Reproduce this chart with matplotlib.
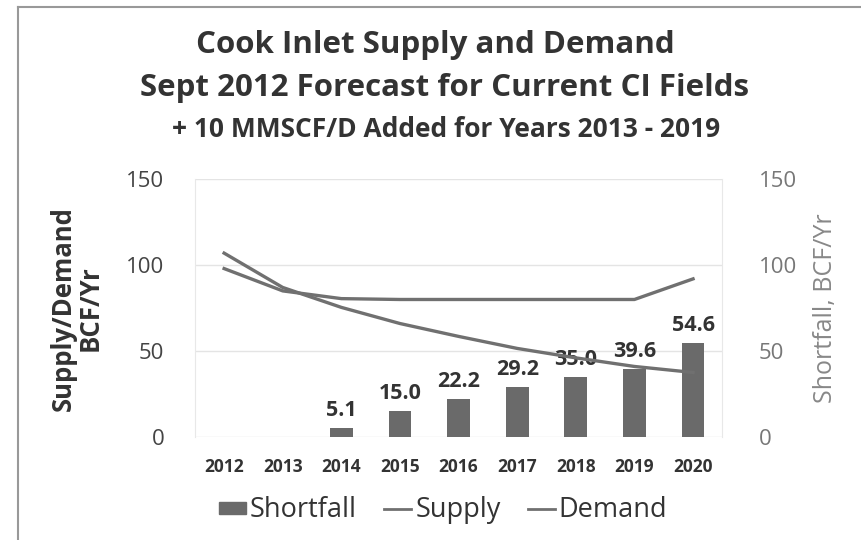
import numpy as np
import matplotlib.pyplot as plt
from matplotlib.lines import Line2D
from matplotlib.patches import Patch

plt.rcParams['font.family'] = ['Open Sans', 'DejaVu Sans']

years = ['2012', '2013', '2014', '2015', '2016', '2017', '2018', '2019', '2020']
shortfall = [0, 0, 5.1, 15.0, 22.2, 29.2, 35.0, 39.6, 54.6]
supply = [107, 87, 75.4, 66, 58.5, 51.5, 46, 41, 37.5]
demand = [98, 85, 80.5, 80, 80, 80, 80, 80, 92]

bar_color = '#6a6a6a'
line_color = '#707070'

fig = plt.figure(figsize=(8.62, 5.4), dpi=100)
ax = fig.add_axes([0.226, 0.191, 0.612, 0.477])
x = np.arange(len(years))

# shortfall bars on the secondary axis, lines on the primary one
ax2 = ax.twinx()
ax2.bar(x, shortfall, width=0.39, color=bar_color, zorder=2)
for xi, v in zip(x, shortfall):
    if v > 0:
        ax2.text(xi, v + 4, f'{v:.1f}', ha='center', va='bottom',
                 fontsize=15.5, fontweight='bold', color='#333333')
ax.plot(x, supply, color=line_color, lw=2.4, zorder=3)
ax.plot(x, demand, color=line_color, lw=2.4, zorder=3)
ax.set_zorder(ax2.get_zorder() + 1)
ax.patch.set_visible(False)

for a in (ax, ax2):
    a.set_ylim(0, 150)
    a.set_yticks([0, 50, 100, 150])
    a.set_xlim(-0.5, len(years) - 0.5)
    for s in a.spines.values():
        s.set_visible(False)
    a.tick_params(length=0)

ax2.grid(axis='y', color='#e4e4e4', lw=1)
ax2.set_axisbelow(True)
ax.spines['left'].set_visible(True)
ax.spines['left'].set_color('#e8e8e8')
ax.spines['right'].set_visible(True)
ax.spines['right'].set_color('#e8e8e8')

ax.set_xticks(x)
ax.set_xticklabels(years, fontsize=12.5, fontweight='bold', color='#333333')
ax.tick_params(axis='x', pad=15)
ax.tick_params(axis='y', labelsize=16, labelcolor='#444444', pad=22)
ax2.tick_params(axis='y', labelsize=16, labelcolor='#777777', pad=26)

ax.set_ylabel('Supply/Demand\nBCF/Yr', fontsize=18.5, fontweight='bold',
              color='#333333', labelpad=16, linespacing=0.98)
ax2.set_ylabel('Shortfall, BCF/Yr', fontsize=18, color='#888888', labelpad=12)

fig.text(0.505, 0.917, 'Cook Inlet Supply and Demand', ha='center', va='center',
         fontsize=22.5, fontweight='bold', color='#333333')
fig.text(0.516, 0.837, 'Sept 2012 Forecast for Current CI Fields', ha='center',
         va='center', fontsize=22.5, fontweight='bold', color='#333333')
fig.text(0.518, 0.76, '+ 10 MMSCF/D Added for Years 2013 - 2019', ha='center',
         va='center', fontsize=19, fontweight='bold', color='#333333')

handles = [Patch(color=bar_color),
           Line2D([], [], color=line_color, lw=2),
           Line2D([], [], color=line_color, lw=2)]
fig.legend(handles, ['Shortfall', 'Supply', 'Demand'], loc='center',
           bbox_to_anchor=(0.514, 0.055), ncol=3, frameon=False, fontsize=19.5,
           handlelength=1.0, handleheight=0.3, handletextpad=0.15,
           columnspacing=1.0, labelcolor='#333333')

# outer frame on the left and top edges
fig.add_artist(Line2D([0.021, 0.021], [0, 0.987], color='#999999', lw=1.5))
fig.add_artist(Line2D([0.021, 1], [0.987, 0.987], color='#999999', lw=1.5))

fig.savefig('out.png', dpi=100)
